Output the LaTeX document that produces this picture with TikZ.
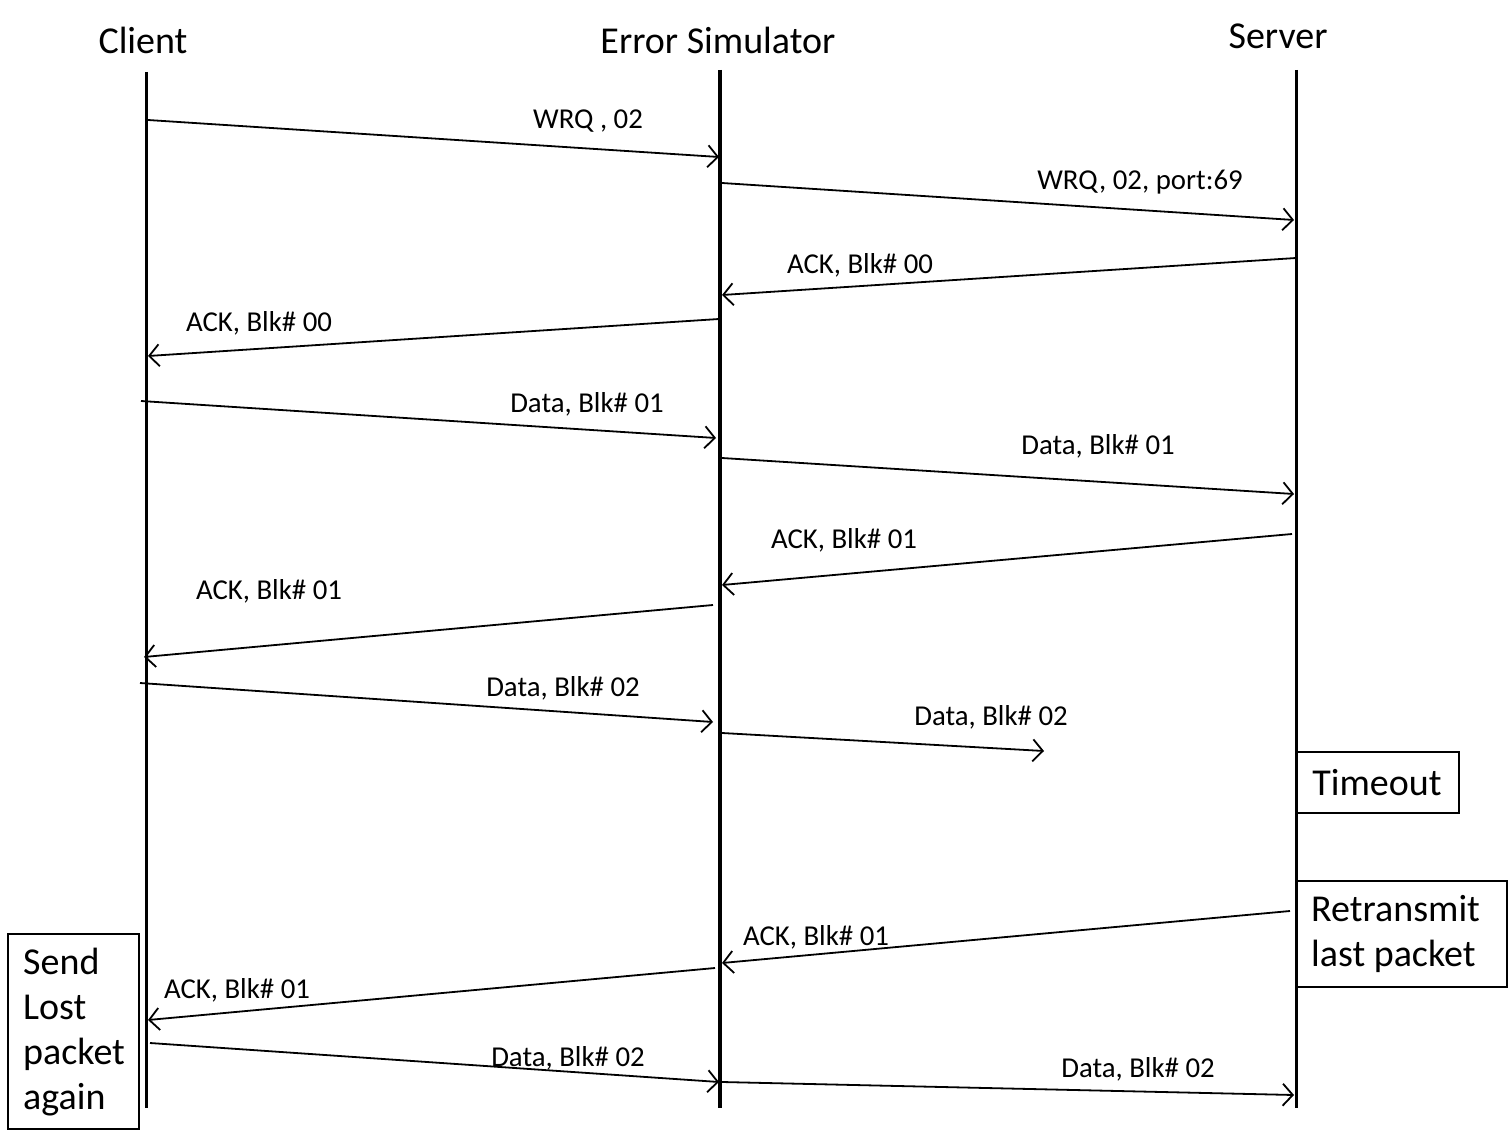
\documentclass[tikz,border=0pt]{standalone}
\usepackage{fontspec}
\setmainfont{Carlito}
\usetikzlibrary{arrows.meta}
\begin{document}
\begin{tikzpicture}[x=1pt,y=-1pt,
  lifeline/.style={line width=3pt},
  msg/.style={line width=1.8pt,-{Straight Barb[length=10pt,width=22pt,line width=1.8pt]}},
  lbl/.style={font=\fontsize{28.8}{34}\selectfont,inner sep=0pt},
  head/.style={font=\fontsize{38}{45}\selectfont,inner sep=0pt},
  notebox/.style={line width=1.8pt}]
\useasboundingbox (0,0) rectangle (1509,1145);
% headers
\node[head] (hc) at (143,40) {Client};
\node[head] (he) at (718,40) {Error Simulator};
\node[head] (hs) at (1278,36) {Server};
% lifelines
\coordinate (c0) at (146,72); \coordinate (c1) at (146,1108);
\coordinate (e0) at (720,70); \coordinate (e1) at (720,1108);
\coordinate (s0) at (1296,70); \coordinate (s1) at (1296,1108);
\draw[lifeline] (c0) -- (c1);
\draw[line width=4pt] (e0) -- (e1);
\draw[lifeline] (s0) -- (s1);
% message endpoints
\coordinate (a1) at (148,120);  \coordinate (b1) at (719,157);
\coordinate (a2) at (722,183);  \coordinate (b2) at (1294,220);
\coordinate (a3) at (1296,258); \coordinate (b3) at (722,295);
\coordinate (a4) at (719,319);  \coordinate (b4) at (148,356);
\coordinate (a5) at (141,401);  \coordinate (b5) at (716,438);
\coordinate (a6) at (722,458);  \coordinate (b6) at (1294,494);
\coordinate (a7) at (1292,534); \coordinate (b7) at (722,585);
\coordinate (a8) at (713,605);  \coordinate (b8) at (144,657);
\coordinate (a9) at (140,683);  \coordinate (b9) at (713,722);
\coordinate (a10) at (722,733); \coordinate (b10) at (1044,751);
\coordinate (a11) at (1290,911); \coordinate (b11) at (722,963);
\coordinate (a12) at (715,968); \coordinate (b12) at (148,1020);
\coordinate (a13) at (150,1043); \coordinate (b13) at (719,1082);
\coordinate (a14) at (722,1082); \coordinate (b14) at (1294,1095);
\foreach \i in {1,...,14} {\draw[msg] (a\i) -- (b\i);}
% labels
\node[lbl] (l1) at (588,121) {WRQ , 02};
\node[lbl] (l2) at (1140,182) {WRQ, 02, port:69};
\node[lbl] (l3) at (860,265) {ACK, Blk\# 00};
\node[lbl] (l4) at (259,323) {ACK, Blk\# 00};
\node[lbl] (l5) at (587,404) {Data, Blk\# 01};
\node[lbl] (l6) at (1098,446) {Data, Blk\# 01};
\node[lbl] (l7) at (844,540) {ACK, Blk\# 01};
\node[lbl] (l8) at (269,591) {ACK, Blk\# 01};
\node[lbl] (l9) at (563,688) {Data, Blk\# 02};
\node[lbl] (l10) at (991,717) {Data, Blk\# 02};
\node[lbl] (l11) at (816,937) {ACK, Blk\# 01};
\node[lbl] (l12) at (237,990) {ACK, Blk\# 01};
\node[lbl] (l13) at (568,1058) {Data, Blk\# 02};
\node[lbl] (l14) at (1138,1069) {Data, Blk\# 02};
% notes
\draw[notebox] (1297,752) rectangle (1459,813);
\node[head] (timeout) at (1377,783) {Timeout};
\draw[notebox] (1297,881) rectangle (1507,987);
\node[head,anchor=west,align=left] (retx) at (1311,934) {Retransmit\\last packet};
\draw[notebox] (8,934) rectangle (139,1129);
\node[head,anchor=west,align=left] (send) at (23,1032) {Send\\Lost\\packet\\again};
\end{tikzpicture}
\end{document}
